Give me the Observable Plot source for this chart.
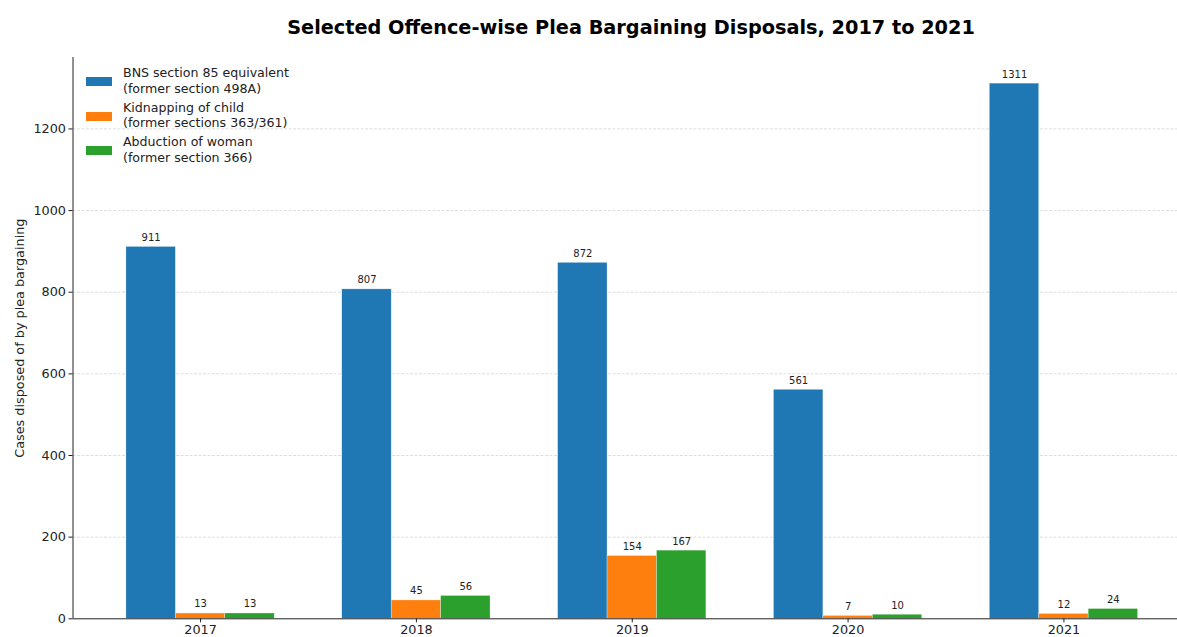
<!DOCTYPE html>
<html>
<head>
<meta charset="utf-8">
<script src="https://cdn.jsdelivr.net/npm/d3@7"></script>
<script src="https://cdn.jsdelivr.net/npm/@observablehq/plot@0.6"></script>
<style>
  html, body { margin: 0; padding: 0; background: #fff; }
  #wrap { position: relative; width: 1177px; height: 637px; overflow: hidden; font-family: "DejaVu Sans", sans-serif; }
  #title { position: absolute; left: 72px; width: 1118px; top: 16px; text-align: center; font-weight: bold; font-size: 19.3px; color: #000; }
  .leg { position: absolute; font-size: 12.6px; line-height: 15.5px; color: #222; }
  .sw { position: absolute; width: 26px; height: 9px; }
</style>
</head>
<body>
<div id="wrap">
  <div id="chart"></div>
  <div id="title">Selected Offence-wise Plea Bargaining Disposals, 2017 to 2021</div>
  <div id="legend"></div>
</div>
<script>
const years = ["2017", "2018", "2019", "2020", "2021"];
const seriesNames = [
  "BNS section 85 equivalent\n(former section 498A)",
  "Kidnapping of child\n(former sections 363/361)",
  "Abduction of woman\n(former section 366)"
];
const bnsValues = [911, 807, 872, 561, 1311];
const kidnapValues = [13, 45, 154, 7, 12];
const abductionValues = [13, 56, 167, 10, 24];
const colors = ["#1f77b4", "#ff7f0e", "#2ca02c"];
const yTicks = [0, 200, 400, 600, 800, 1000, 1200];

const barW = 0.229;
const xDomain = [-0.591, 4.591];
const allValues = [bnsValues, kidnapValues, abductionValues];
const data = [];
allValues.forEach((vals, k) => {
  vals.forEach((v, i) => {
    const c = i + (k - 1) * barW;
    data.push({series: seriesNames[k], x1: c - barW / 2, x2: c + barW / 2, xc: c, value: v});
  });
});

const W = 1177, H = 637;
const plot = Plot.plot({
  width: W,
  height: H,
  marginTop: 57,
  marginBottom: 18.7,
  marginLeft: 72.5,
  marginRight: 0,
  style: {fontFamily: "DejaVu Sans, sans-serif", background: "#fff", overflow: "hidden"},
  x: {domain: xDomain, range: [72.5, 1191]},
  y: {domain: [0, 1375]},
  color: {domain: seriesNames, range: colors},
  marks: [
    Plot.ruleY(yTicks.slice(1), {stroke: "#d6d6d6", strokeDasharray: "3,1.5", strokeWidth: 0.8}),
    Plot.rect(data, {x1: "x1", x2: "x2", y1: 0, y2: "value", fill: "series", stroke: "#ffffff", strokeWidth: 0.5, strokeOpacity: 0.6}),
    Plot.text(data, {x: "xc", y: "value", text: d => String(d.value), lineAnchor: "bottom", dy: -6, fontSize: 10, fill: "#222"}),
    Plot.axisY({ticks: yTicks, tickFormat: d => String(d), tickSize: 4, tickPadding: 3, fontSize: 12.8, label: "Cases disposed of by plea bargaining", labelAnchor: "center", labelArrow: "none", labelOffset: 58, color: "#222"}),
    Plot.axisX({ticks: [0, 1, 2, 3, 4], tickFormat: i => years[i], tickSize: 4, tickPadding: 2, fontSize: 12.8, label: null, color: "#222"}),
    Plot.ruleY([0], {stroke: "#222", strokeWidth: 1}),
    Plot.ruleX([xDomain[0]], {stroke: "#222", strokeWidth: 1})
  ]
});
document.getElementById("chart").appendChild(plot);

const leg = document.getElementById("legend");
seriesNames.forEach((name, k) => {
  const top = 65 + k * 34.5;
  const sw = document.createElement("div");
  sw.className = "sw";
  sw.style.left = "86px";
  sw.style.top = (top + 12) + "px";
  sw.style.background = colors[k];
  leg.appendChild(sw);
  const t = document.createElement("div");
  t.className = "leg";
  t.style.left = "123px";
  t.style.top = top + "px";
  t.innerHTML = name.split("\n").join("<br>");
  leg.appendChild(t);
});
</script>
</body>
</html>
